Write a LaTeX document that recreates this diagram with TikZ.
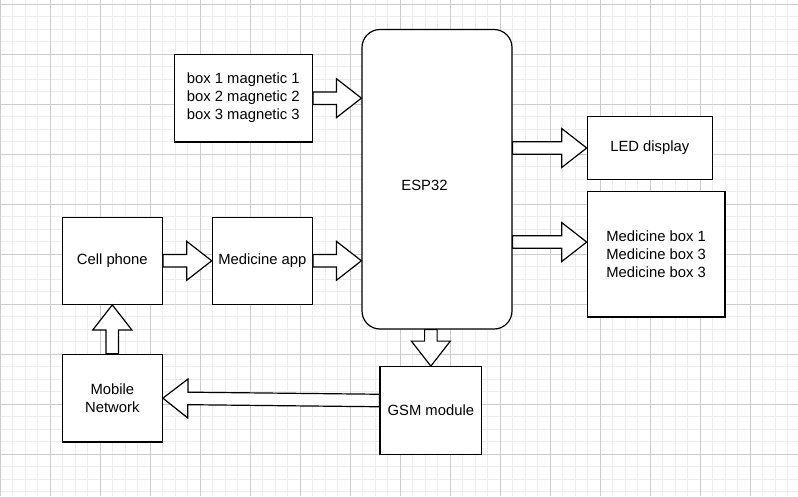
\documentclass[tikz,border=0pt]{standalone}
\usepackage{fontspec}
\setmainfont{Liberation Sans}
\usetikzlibrary{calc}
\tikzset{
  lbl/.style={font=\fontsize{14.8}{18}\selectfont, align=center, inner sep=0pt},
  box/.style={lbl, draw=black, line width=1.2pt, fill=white},
  espbox/.style={box, rounded corners=18pt},
  fatarrowstyle/.style={draw=black, line width=1.2pt, fill=white, line join=miter},
  minorgrid/.style={draw=black!7, line width=0.8pt},
  majorgrid/.style={draw=black!20, line width=0.8pt},
}
\newcommand{\fatarrow}[2]{%
  \draw[fatarrowstyle] let \p1=#1, \p2=#2, \p3=($(\p2)!25pt!(\p1)$) in
    ($(\p1)!6.25pt!90:(\p2)$) -- ($(\p3)!6.25pt!90:(\p2)$) -- ($(\p3)!19.5pt!90:(\p2)$)
    -- (\p2) -- ($(\p3)!19.5pt!-90:(\p2)$) -- ($(\p3)!6.25pt!-90:(\p2)$)
    -- ($(\p1)!6.25pt!-90:(\p2)$) -- cycle;}
\begin{document}
\begin{tikzpicture}[x=1pt,y=-1pt]
\fill[white] (0,0) rectangle (798,496);
\useasboundingbox (0,0) rectangle (798,496);
% grid
\foreach \i in {0,...,63} {\draw[minorgrid] ({12.5*\i},0) -- ({12.5*\i},496);}
\foreach \j in {0,...,39} {\draw[minorgrid] (0,{4.3+12.5*\j}) -- (798,{4.3+12.5*\j});}
\foreach \i in {0,...,15} {\draw[majorgrid] ({50*\i},0) -- ({50*\i},496);}
\foreach \j in {0,...,9} {\draw[majorgrid] (0,{4.3+50*\j}) -- (798,{4.3+50*\j});}
% nodes
\node[box, minimum width=138pt, minimum height=87.7pt] (mag) at (243.3,98.15)
  {box 1 magnetic 1\\box 2 magnetic 2\\box 3 magnetic 3};
\node[espbox, minimum width=150pt, minimum height=299.5pt] (esp) at (437,179.25) {};
\node[lbl] (esplabel) at (424.5,185.7) {ESP32};
\node[box, minimum width=125pt, minimum height=62.6pt] (led) at (649.8,148) {LED display};
\node[box, minimum width=137.7pt, minimum height=125.3pt] (medbox) at (656.15,254.35)
  {Medicine box 1\\Medicine box 3\\Medicine box 3};
\node[box, minimum width=100pt, minimum height=87pt] (cell) at (112.3,260.8) {Cell phone};
\node[box, minimum width=100pt, minimum height=87pt] (app) at (262.3,260.8) {Medicine app};
\node[box, minimum width=100pt, minimum height=87.7pt] (mobile) at (112.3,398.15) {Mobile\\Network};
\node[box, minimum width=101.7pt, minimum height=87.6pt] (gsm) at (430.85,410.5) {GSM module};
% helper coordinates
\coordinate (medin) at ([yshift=12.3pt]medbox.west);
\coordinate (medout) at (medin -| esp.east);
\coordinate (gsmout) at ([yshift=10pt]gsm.west);
\coordinate (espdown) at (gsm.north |- esp.south);
% connectors
\fatarrow{(mag.east)}{(mag.east -| esp.west)}
\fatarrow{(led.west -| esp.east)}{(led.west)}
\fatarrow{(medout)}{(medin)}
\fatarrow{(cell.east)}{(app.west)}
\fatarrow{(app.east)}{(app.east -| esp.west)}
\fatarrow{(mobile.north)}{(cell.south)}
\fatarrow{(espdown)}{(gsm.north)}
\fatarrow{(gsmout)}{(mobile.east)}
\end{tikzpicture}
\end{document}
